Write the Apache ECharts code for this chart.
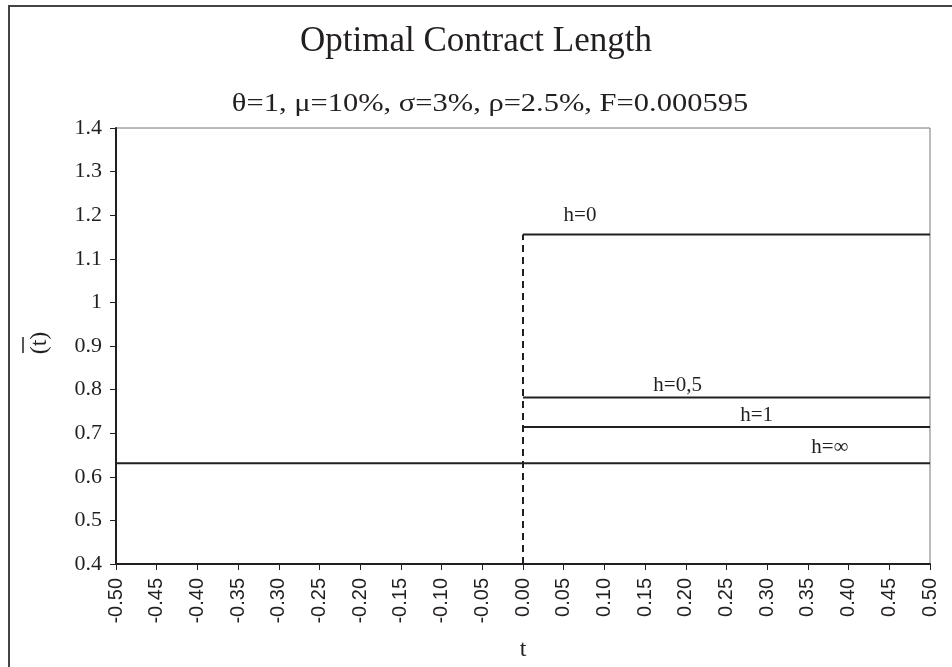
<!DOCTYPE html>
<html>
<head>
<meta charset="utf-8">
<script src="https://cdn.jsdelivr.net/npm/echarts@6/dist/echarts.min.js"></script>
<style>html,body{margin:0;padding:0;background:#fff}#c{width:952px;height:667px}</style>
</head>
<body>
<div id="c"></div>
<script>
var titleText = 'Optimal Contract Length';
var subtitleText = '\u03b8=1, \u03bc=10%, \u03c3=3%, \u03c1=2.5%, F=0.000595';
var xName = 't';
var yName = '(t)';
var tMin = -0.5, tMax = 0.5, tStep = 0.05;
var yMin = 0.4, yMax = 1.4, yStep = 0.1;
var seriesNames = ['h=0', 'h=0,5', 'h=1', 'h=\u221e'];
var hZero = [[0, 1.156], [0.5, 1.156]];
var hHalf = [[0, 0.782], [0.5, 0.782]];
var hOne = [[0, 0.714], [0.5, 0.714]];
var hInf = [[-0.5, 0.631], [0.5, 0.631]];
var jumpLine = [[0, 0.4], [0, 1.156]];
var labelAt = [[0.07, 1.20], [0.19, 0.81], [0.287, 0.74], [0.377, 0.667]];

var ink = '#231f20';
var serif = '"Liberation Serif", "Times New Roman", serif';
var sans = '"Liberation Sans", Arial, sans-serif';

function lineSeries(data, name, idx) {
  return {
    type: 'line', name: name, data: data, symbol: 'none', silent: true,
    lineStyle: {color: ink, width: 2},
    markPoint: {
      symbol: 'circle', symbolSize: 0, silent: true,
      data: [{coord: labelAt[idx], value: name}],
      label: {show: true, formatter: name, color: ink, fontFamily: serif, fontSize: 21, position: 'inside'}
    }
  };
}

var chart = echarts.init(document.getElementById('c'), null, {renderer: 'canvas'});
chart.setOption({
  animation: false,
  backgroundColor: '#fff',
  title: [
    {text: titleText, left: 'center', top: 19, textStyle: {fontFamily: serif, fontSize: 35, fontWeight: 'normal', color: ink}}
  ],
  graphic: [
    {type: 'rect', shape: {x: 9, y: 6, width: 960, height: 700}, style: {fill: 'none', stroke: '#444', lineWidth: 2}, silent: true},
    {type: 'text', x: 490, y: 104, scaleX: 1.22, style: {text: subtitleText, fontFamily: serif, fontSize: 25, fill: ink, align: 'center', verticalAlign: 'middle'}, silent: true},
    {type: 'text', x: 40, y: 343, rotation: Math.PI / 2, style: {text: yName, fontFamily: serif, fontSize: 24, fill: ink, align: 'center', verticalAlign: 'middle'}, silent: true},
    {type: 'line', shape: {x1: 23, y1: 337, x2: 23, y2: 353}, style: {stroke: ink, lineWidth: 1.5}, silent: true}
  ],
  grid: {left: 116, width: 814, top: 128, height: 442, show: true, borderColor: '#777', borderWidth: 1},
  xAxis: [{
    type: 'value', min: tMin, max: tMax, interval: tStep, position: 'bottom',
    name: xName, nameLocation: 'middle', nameGap: 74,
    nameTextStyle: {fontFamily: serif, fontSize: 24, color: ink},
    axisLine: {show: true, onZero: false, lineStyle: {color: ink, width: 2}},
    axisTick: {show: true, inside: false, length: 6, lineStyle: {color: ink, width: 1}},
    axisLabel: {rotate: 90, margin: 14, fontFamily: sans, fontSize: 20, color: ink, formatter: function (v) { return v.toFixed(2); }},
    splitLine: {show: false}
  }, {
    type: 'value', min: tMin, max: tMax, interval: tStep, position: 'top', offset: -442,
    axisLine: {show: false, onZero: false}, axisLabel: {show: false}, splitLine: {show: false},
    axisTick: {show: true, inside: false, length: 5, lineStyle: {color: ink, width: 1}}
  }],
  yAxis: {
    type: 'value', min: yMin, max: yMax, interval: yStep,
    axisLine: {show: true, onZero: false, lineStyle: {color: ink, width: 2}},
    axisTick: {show: true, inside: false, length: 6, lineStyle: {color: ink, width: 1}},
    axisLabel: {margin: 14, fontFamily: serif, fontSize: 22, color: ink, formatter: function (v) { return String(Math.round(v * 10) / 10); }},
    splitLine: {show: false}
  },
  series: [
    lineSeries(hZero, seriesNames[0], 0),
    lineSeries(hHalf, seriesNames[1], 1),
    lineSeries(hOne, seriesNames[2], 2),
    lineSeries(hInf, seriesNames[3], 3),
    {type: 'line', data: jumpLine, symbol: 'none', silent: true, lineStyle: {color: ink, width: 2, type: [7, 5]}}
  ]
});
</script>
</body>
</html>
